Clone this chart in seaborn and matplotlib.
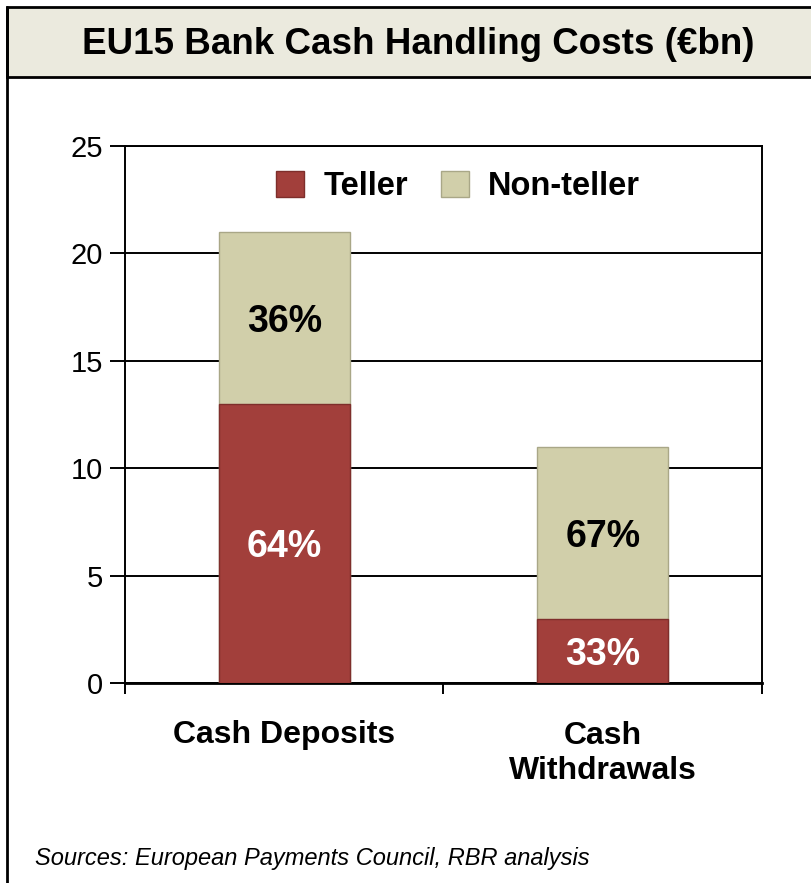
import matplotlib
matplotlib.use("Agg")
import matplotlib.pyplot as plt
import seaborn as sns
import pandas as pd
from matplotlib.patches import Rectangle, Patch
from matplotlib.lines import Line2D

categories = ["Cash Deposits", "Cash\nWithdrawals"]
teller = [13.0, 3.0]
non_teller = [8.0, 8.0]
teller_labels = ["64%", "33%"]
non_teller_labels = ["36%", "67%"]
title = "EU15 Bank Cash Handling Costs (€bn)"
source = "Sources: European Payments Council, RBR analysis"

TELLER_C = "#A23F3B"
NONTELLER_C = "#D1CFAA"

sns.set_theme(style="white")
plt.rcParams["font.family"] = ["Liberation Sans", "DejaVu Sans"]
plt.rcParams["text.color"] = "black"
plt.rcParams["xtick.color"] = "black"
plt.rcParams["ytick.color"] = "black"
plt.rcParams["axes.labelcolor"] = "black"

df = pd.DataFrame({"cat": categories, "teller": teller, "non_teller": non_teller})
df["total"] = df["teller"] + df["non_teller"]

fig = plt.figure(figsize=(8.12, 8.83), dpi=100)
W, H = 812, 883
ax = fig.add_axes([125 / W, 1 - 683 / H, 637 / W, 537 / H])

sns.barplot(data=df, x="cat", y="total", color=NONTELLER_C, saturation=1,
            width=0.41, edgecolor="#A9A787", linewidth=1.0, ax=ax, zorder=3)
sns.barplot(data=df, x="cat", y="teller", color=TELLER_C, saturation=1,
            width=0.41, edgecolor="#7E2E2B", linewidth=1.0, ax=ax, zorder=4)

ax.set_ylim(0, 25)
ax.set_xlim(-0.5, 1.5)
ax.set_yticks([0, 5, 10, 15, 20, 25])
ax.set_yticklabels(["0", "5", "10", "15", "20", "25"], fontsize=21, color="black")
ax.yaxis.grid(True, color="black", linewidth=1.4, zorder=0)
ax.set_axisbelow(True)
ax.tick_params(axis="y", length=11, width=1.4, color="black", left=True, pad=5)
ax.set_xticks([0, 1])
ax.set_xticklabels(categories, fontsize=23, fontweight="bold", linespacing=1.25, color="black")
ax.tick_params(axis="x", length=0, pad=27)
ax.set_xticks([-0.5, 0.5, 1.5], minor=True)
ax.tick_params(axis="x", which="minor", length=8, width=1.4, color="black", bottom=True, direction="out")
ax.set_xlabel("")
ax.set_ylabel("")
for s in ax.spines.values():
    s.set_visible(True)
    s.set_color("black")
    s.set_linewidth(1.4)
ax.spines["bottom"].set_linewidth(2.0)

# segment labels
for i in range(len(categories)):
    ax.text(i, teller[i] / 2, teller_labels[i], ha="center", va="center_baseline",
            fontsize=27, fontweight="bold", color="white", zorder=6)
    ax.text(i, teller[i] + non_teller[i] / 2, non_teller_labels[i], ha="center", va="center_baseline",
            fontsize=27, fontweight="bold", color="black", zorder=6)

handles = [Patch(facecolor=TELLER_C, edgecolor="#7E2E2B"),
           Patch(facecolor=NONTELLER_C, edgecolor="#A9A787")]
leg = ax.legend(handles, ["Teller", "Non-teller"], loc="center", bbox_to_anchor=(0.523, 0.924),
                ncol=2, frameon=False, prop={"size": 23.5, "weight": "bold"},
                handlelength=0.85, handleheight=0.85, handletextpad=0.6, columnspacing=1.0)
for t in leg.get_texts():
    t.set_color("black")

# title box and border
fig.patches.append(Rectangle((7 / W, 1 - 77 / H), 1.0, 70 / H, transform=fig.transFigure,
                             facecolor="#EBEADE", edgecolor="black", linewidth=2, zorder=0))
fig.lines.append(Line2D([7 / W, 7 / W], [0, 1 - 7 / H], transform=fig.transFigure,
                        color="black", linewidth=2))
fig.text(418 / W, 1 - 45 / H, title, ha="center", va="center", fontsize=26.5, fontweight="bold")
fig.text(35 / W, 1 - 858 / H, source, ha="left", va="center", fontsize=17, style="italic")

fig.savefig("out.png", dpi=100)
